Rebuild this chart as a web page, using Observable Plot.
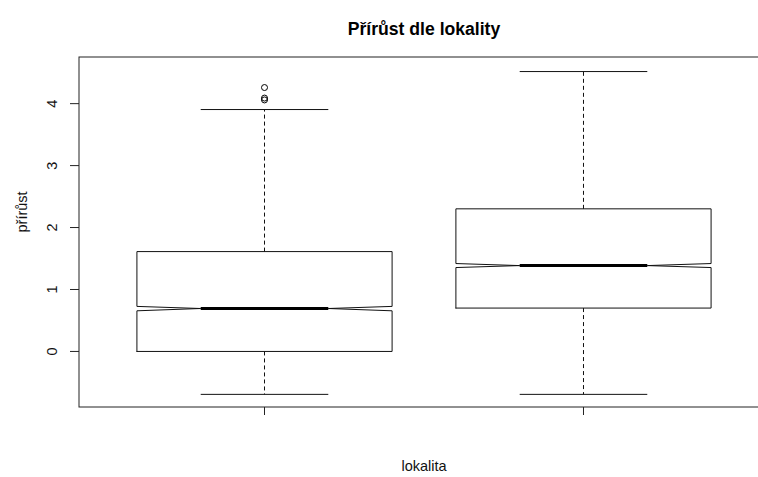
<!DOCTYPE html>
<html>
<head>
<meta charset="utf-8">
<script src="https://cdn.jsdelivr.net/npm/d3@7"></script>
<script src="https://cdn.jsdelivr.net/npm/@observablehq/plot@0.6"></script>
<style>
  body { margin: 0; background: #fff; }
  svg { font-family: "Liberation Sans", Arial, sans-serif; }
</style>
</head>
<body>
<div id="chart"></div>
<script>
// Box statistics of přírůst for each lokalita (notched boxplot)
const lokality    = [1, 2];
const dolniVous   = [-0.693, -0.693];
const dolniKvartil = [0.0, 0.700];
const medians     = [0.693, 1.386];
const horniKvartil = [1.612, 2.302];
const horniVous   = [3.905, 4.518];
const notchDolni  = [0.656, 1.354];
const notchHorni  = [0.727, 1.419];

// Outlying values beyond the upper whisker
const odlehleLokalita = [1, 1, 1];
const odlehleHodnoty  = [4.26, 4.09, 4.06];

const yTicks = [0, 1, 2, 3, 4];
const titulek = "Přírůst dle lokality";
const popisX = "lokalita";
const popisY = "přírůst";

const boxes = lokality.map((g, i) => ({
  g,
  lo: dolniVous[i], q1: dolniKvartil[i], med: medians[i],
  q3: horniKvartil[i], hi: horniVous[i],
  nlo: notchDolni[i], nhi: notchHorni[i]
}));
const outliers = odlehleHodnoty.map((v, i) => ({g: odlehleLokalita[i], v}));

// Box geometry in x units (boxes sit on integer positions)
const halfBox = 0.4, halfNotch = 0.2, halfStaple = 0.2;

// Closed notched outline for each box
const outline = boxes.flatMap(b => [
  [-halfBox, b.q1], [halfBox, b.q1], [halfBox, b.nlo], [halfNotch, b.med],
  [halfBox, b.nhi], [halfBox, b.q3], [-halfBox, b.q3], [-halfBox, b.nhi],
  [-halfNotch, b.med], [-halfBox, b.nlo], [-halfBox, b.q1]
].map(([dx, y]) => ({g: b.g, x: b.g + dx, y})));

const xDomain = [0.42, 2.58];
const yDomain = [-0.905, 4.745];
const xMid = (xDomain[0] + xDomain[1]) / 2;
const yMid = (yDomain[0] + yDomain[1]) / 2;

const W = 758, H = 477;
const mL = 79, mT = 57, mB = 70;

const chart = Plot.plot({
  width: W,
  height: H,
  marginLeft: mL,
  marginTop: mT,
  marginBottom: mB,
  marginRight: 0,
  style: {background: "#fff", fontFamily: "'Liberation Sans', Arial, sans-serif", overflow: "hidden"},
  x: {domain: xDomain, range: [mL, 768], axis: null},
  y: {domain: yDomain, range: [H - mB, mT], axis: null},
  marks: [
    // plot frame
    Plot.rect([{}], {
      x1: () => xDomain[0], x2: () => xDomain[1],
      y1: () => yDomain[0], y2: () => yDomain[1],
      fill: "none", stroke: "#222", strokeWidth: 1
    }),
    // axes ticks
    Plot.axisY({ticks: yTicks, tickSize: 9, tickFormat: () => "", label: null, stroke: "#222"}),
    Plot.axisX({ticks: lokality, tickSize: 8, tickFormat: () => "", label: null, stroke: "#222"}),
    Plot.text(yTicks, {
      x: () => xDomain[0], y: d => d, text: d => String(d),
      rotate: -90, dx: -27, fontSize: 14.5, fill: "#111"
    }),
    // whiskers
    Plot.link(boxes, {x1: "g", x2: "g", y1: "q3", y2: "hi", stroke: "#111", strokeDasharray: "4,3"}),
    Plot.link(boxes, {x1: "g", x2: "g", y1: "q1", y2: "lo", stroke: "#111", strokeDasharray: "4,3"}),
    Plot.link(boxes, {x1: d => d.g - halfStaple, x2: d => d.g + halfStaple, y1: "hi", y2: "hi", stroke: "#111"}),
    Plot.link(boxes, {x1: d => d.g - halfStaple, x2: d => d.g + halfStaple, y1: "lo", y2: "lo", stroke: "#111"}),
    // notched boxes
    Plot.line(outline, {x: "x", y: "y", z: "g", stroke: "#111", strokeWidth: 1}),
    // medians
    Plot.link(boxes, {x1: d => d.g - halfNotch, x2: d => d.g + halfNotch, y1: "med", y2: "med", stroke: "#000", strokeWidth: 3, strokeLinecap: "butt"}),
    // outliers
    Plot.dot(outliers, {x: "g", y: "v", r: 3, stroke: "#000", fill: "none", strokeWidth: 1}),
    // titles
    Plot.text([titulek], {x: () => xMid, frameAnchor: "top", dy: -35, fontSize: 17.6, fontWeight: "bold", fill: "#000"}),
    Plot.text([popisX], {x: () => xMid, frameAnchor: "bottom", dy: 63, fontSize: 14.5, fill: "#111"}),
    Plot.text([popisY], {y: () => yMid, frameAnchor: "left", dx: -57, rotate: -90, fontSize: 14.5, fill: "#111"})
  ]
});

document.getElementById("chart").appendChild(chart);
</script>
</body>
</html>
